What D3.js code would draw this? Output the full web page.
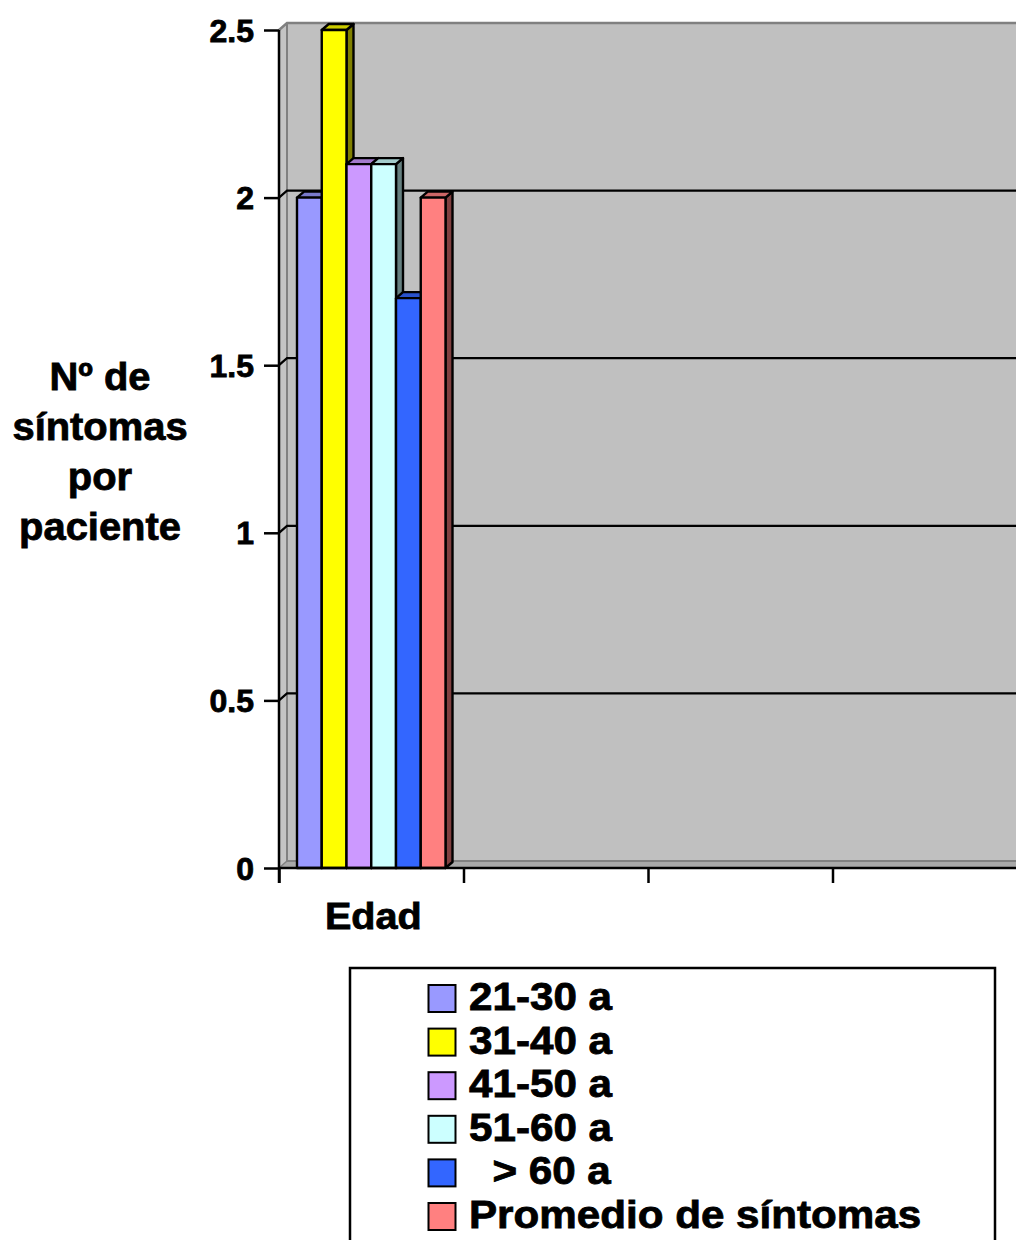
<!DOCTYPE html>
<html>
<head>
<meta charset="utf-8">
<script src="https://cdn.jsdelivr.net/npm/d3@7"></script>
<style>
  html, body { margin: 0; padding: 0; background: #fff; }
  svg { display: block; }
  text { font-family: "Liberation Sans", Arial, sans-serif; font-weight: bold; fill: #000; stroke: #000; stroke-width: 0.8px; }
</style>
</head>
<body>
<svg id="chart" width="1016" height="1240"></svg>
<script>
// Number of symptoms per patient by age group
const categories = ["Edad", "", "", ""];
const seriesNames = ["21-30 a", "31-40 a", "41-50 a", "51-60 a", "  > 60 a", "Promedio de síntomas"];
const seriesColors = ["#9999FF", "#FFFF00", "#CC99FF", "#CCFFFF", "#3366FF", "#FF8080"];
const seriesValues = [2.0, 2.5, 2.1, 2.1, 1.7, 2.0];   // one value per series, category "Edad"
const yTicks = [0, 0.5, 1, 1.5, 2, 2.5];
const yTitleLines = ["Nº de", "síntomas", "por", "paciente"];

const svg = d3.select("#chart");

// plot geometry (front plane) and 3D depth offsets
const pLeft = 279, pRight = 1017, pTop = 30, pBottom = 868;
const wallDx = 8, wallDy = 7;     // back wall offset
const barDx = 7, barDy = 6;       // bar depth offset

const y = d3.scaleLinear().domain([0, 2.5]).range([pBottom, pTop]);
const x = d3.scaleBand().domain(d3.range(categories.length)).range([pLeft, pRight]).padding(0);
const xs = d3.scaleBand().domain(d3.range(seriesNames.length))
  .range([0, x.bandwidth()]).paddingInner(0).paddingOuter(0.727);

// stretched bold text helper
function label(g, tx, ty, str, size, sx, anchor) {
  return g.append("text")
    .attr("transform", `translate(${tx},${ty}) scale(${sx},1)`)
    .attr("text-anchor", anchor)
    .attr("font-size", size)
    .style("white-space", "pre")
    .text(str);
}

// ---- walls ----
const walls = svg.append("g");
walls.append("rect")
  .attr("x", pLeft + wallDx).attr("y", pTop - wallDy)
  .attr("width", pRight - pLeft + 20).attr("height", pBottom - pTop)
  .attr("fill", "#C0C0C0");
walls.append("polygon")
  .attr("points", [[pLeft, pTop], [pLeft + wallDx, pTop - wallDy], [pLeft + wallDx, pBottom - wallDy], [pLeft, pBottom]].join(" "))
  .attr("fill", "#C4C4C4");
walls.append("polygon")
  .attr("points", [[pLeft, pBottom], [pLeft + wallDx, pBottom - wallDy], [pRight + 20, pBottom - wallDy], [pRight + 20, pBottom]].join(" "))
  .attr("fill", "#A8A8A8");
walls.append("path")
  .attr("d", `M${pLeft},${pTop} L${pLeft + wallDx},${pTop - wallDy} L${pRight + 20},${pTop - wallDy}`)
  .attr("fill", "none").attr("stroke", "#808080").attr("stroke-width", 2.5);
walls.append("path")
  .attr("d", `M${pLeft + wallDx},${pTop - wallDy} L${pLeft + wallDx},${pBottom - wallDy} L${pRight + 20},${pBottom - wallDy}`)
  .attr("fill", "none").attr("stroke", "#808080").attr("stroke-width", 2);
walls.append("path")
  .attr("d", `M${pLeft},${pBottom} L${pLeft + wallDx},${pBottom - wallDy}`)
  .attr("fill", "none").attr("stroke", "#808080").attr("stroke-width", 1.5);

// gridlines on side and back wall
const grid = svg.append("g");
yTicks.filter(v => v > 0 && v < 2.5).forEach(v => {
  grid.append("path")
    .attr("d", `M${pLeft},${y(v)} L${pLeft + wallDx},${y(v) - wallDy} L${pRight + 20},${y(v) - wallDy}`)
    .attr("fill", "none").attr("stroke", "#000").attr("stroke-width", 2.2);
});

// ---- bars (drawn left to right so each front face hides the previous side) ----
const bars = svg.append("g");
seriesValues.forEach((v, i) => {
  const x0 = x(0) + xs(i), x1 = x0 + xs.bandwidth();
  const yt = y(v), yb = y(0);
  const base = d3.rgb(seriesColors[i]);
  const sideCol = d3.rgb(base.r * 0.5, base.g * 0.5, base.b * 0.5);
  const topCol = d3.rgb(base.r * 0.8, base.g * 0.8, base.b * 0.8);
  const g = bars.append("g").attr("stroke", "#000").attr("stroke-width", 2.4).attr("stroke-linejoin", "round");
  g.append("polygon")
    .attr("points", [[x1, yt], [x1 + barDx, yt - barDy], [x1 + barDx, yb - barDy], [x1, yb]].join(" "))
    .attr("fill", sideCol);
  g.append("polygon")
    .attr("points", [[x0, yt], [x0 + barDx, yt - barDy], [x1 + barDx, yt - barDy], [x1, yt]].join(" "))
    .attr("fill", topCol);
  g.append("rect")
    .attr("x", x0).attr("y", yt).attr("width", x1 - x0).attr("height", yb - yt)
    .attr("fill", seriesColors[i]);
});

// ---- axes ----
const yAxis = svg.append("g")
  .attr("transform", `translate(${pLeft},0)`)
  .call(d3.axisLeft(y).tickValues(yTicks).tickSize(15).tickFormat(""));
yAxis.select(".domain").attr("d", `M0,${pTop}V${pBottom + 15}`);
yAxis.selectAll("path, line").attr("stroke", "#000").attr("stroke-width", 2.5);

const xAxis = svg.append("g")
  .attr("transform", `translate(0,${pBottom})`)
  .call(d3.axisBottom(d3.scaleLinear().domain([0, categories.length]).range([pLeft, pRight]))
    .tickValues(d3.range(categories.length + 1)).tickSize(15).tickFormat(""));
xAxis.select(".domain").attr("d", `M${pLeft},0H${pRight + 20}`);
xAxis.selectAll("path, line").attr("stroke", "#000").attr("stroke-width", 2.5);

// y tick labels
const tl = svg.append("g");
yTicks.forEach(v => label(tl, 254, y(v) + 11.5, String(v), 32, 1.0, "end"));

// category label
categories.forEach((c, i) => {
  if (c) label(svg, x(i) + x.bandwidth() / 2 + 2, 929, c, 37, 1.07, "middle");
});

// y title
yTitleLines.forEach((t, i) => label(svg, 100, 390 + i * 50, t, 38, 1.05, "middle"));

// ---- legend ----
const lg = svg.append("g");
lg.append("rect")
  .attr("x", 350).attr("y", 968).attr("width", 645).attr("height", 300)
  .attr("fill", "#fff").attr("stroke", "#000").attr("stroke-width", 2.5);
seriesNames.forEach((name, i) => {
  const by = 1010 + i * 43.6;
  lg.append("rect")
    .attr("x", 428.5).attr("y", by - 25).attr("width", 27).attr("height", 27)
    .attr("fill", seriesColors[i]).attr("stroke", "#000").attr("stroke-width", 2);
  label(lg, 469, by, name, 38, 1.11, "start");
});
</script>
</body>
</html>
